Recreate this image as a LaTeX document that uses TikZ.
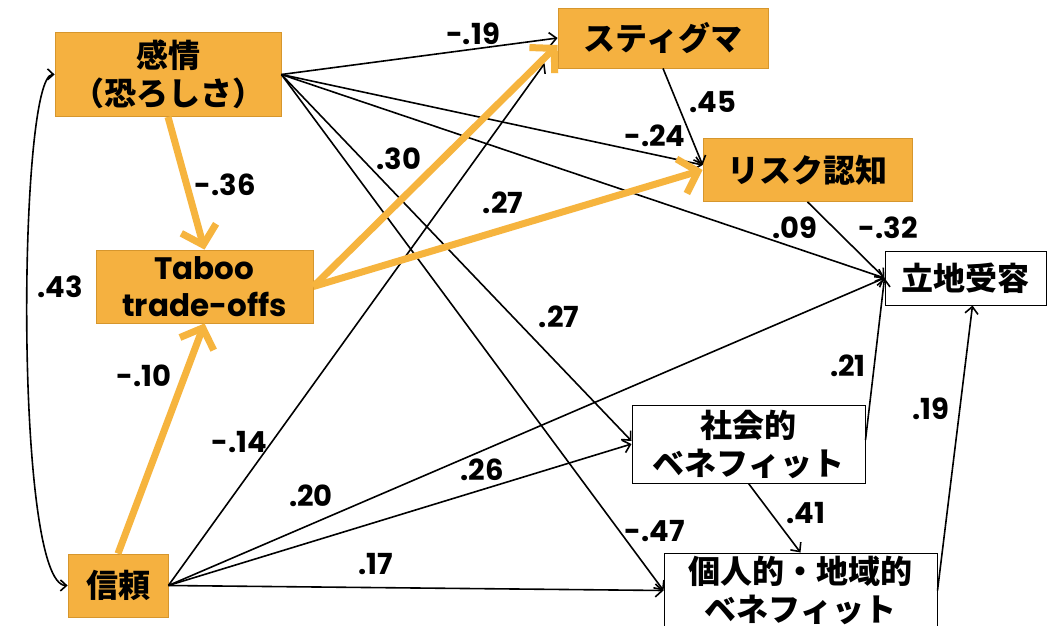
\documentclass[tikz,border=0pt]{standalone}
\usepackage{fontspec}
\setmainfont{Poppins}
\newfontfamily\jp{Noto Sans CJK JP}
\usetikzlibrary{arrows.meta}
\definecolor{ofill}{RGB}{245,177,64}
\definecolor{oline}{RGB}{214,150,45}
\definecolor{oarrow}{RGB}{246,180,62}
\begin{document}
\begin{tikzpicture}[x=1pt,y=-1pt,
  obox/.style={draw=oline, fill=ofill, line width=0.8pt, inner sep=0pt, align=center,
    font=\jp\bfseries\fontsize{32}{38}\selectfont},
  lbox/.style={draw=oline, fill=ofill, line width=0.8pt, inner sep=0pt, align=center,
    font=\bfseries\fontsize{31}{37}\selectfont},
  wbox/.style={draw=black, fill=white, line width=1pt, inner sep=0pt, align=center,
    font=\jp\bfseries\fontsize{32}{38}\selectfont},
  lab/.style={inner sep=0pt, font=\bfseries\fontsize{29}{32}\selectfont},
  arr/.style={draw=black, line width=1.6pt, -{Straight Barb[length=7pt,width=13pt]}},
  oarr/.style={draw=oarrow, line width=7pt, -{Straight Barb[length=17pt,width=36pt]}}]
\useasboundingbox (0,0) rectangle (1047,626);
\fill[white] (0,0) rectangle (1047,626);
% boxes
\node[obox, minimum width=226pt, minimum height=84pt] (emo) at (168,74.5) {感情\\（恐ろしさ）};
\node[lbox, minimum width=217pt, minimum height=73pt] (tab) at (204.5,286.5) {Taboo\\trade-offs};
\node[obox, minimum width=100pt, minimum height=63pt] (tru) at (118,585.5) {信頼};
\node[obox, minimum width=210pt, minimum height=60pt] (stig) at (663,38) {スティグマ};
\node[obox, minimum width=209pt, minimum height=63pt] (risk) at (807.5,170) {リスク認知};
\node[wbox, minimum width=161pt, minimum height=54pt] (lit) at (965.5,278) {立地受容};
\node[wbox, minimum width=233pt, minimum height=78pt] (soc) at (748.5,444) {社会的\\ベネフィット};
\node[wbox, minimum width=273pt, minimum height=75pt] (per) at (800.5,590.5) {個人的・地域的\\ベネフィット};
% thin connectors
\draw[arr] (emo.east) -- (stig.west);
\draw[arr] (emo.east) -- ([yshift=5pt]risk.west);
\draw[arr] (emo.east) -- (lit.west);
\draw[arr] (emo.east) -- ([yshift=3pt]soc.west);
\draw[arr] (emo.east) -- (per.west);
\draw[arr] (tru.east) -- ([xshift=-13pt,yshift=5pt]stig.south west);
\draw[arr] (tru.east) -- (lit.west);
\draw[arr] (tru.east) -- (soc.west);
\draw[arr] (tru.east) -- (per.west);
\draw[arr] (stig.south) -- ([yshift=5pt]risk.west);
\draw[arr] (risk.south) -- (lit.west);
\draw[arr] ([yshift=4pt]soc.east) -- (lit.west);
\draw[arr] (soc.south) -- (per.north);
\draw[arr] (per.east) -- ([xshift=7pt]lit.south);
\draw[line width=1.6pt, {Straight Barb[length=6pt,width=11pt]}-{Straight Barb[length=6pt,width=11pt]}]
  (emo.west) .. controls (18,74) and (14,585) .. (tru.west);
% orange connectors
\draw[oarr] (emo.south) -- (tab.north);
\draw[oarr] (tru.north) -- (tab.south);
\draw[oarr] (tab.east) -- ([yshift=-7pt]stig.west);
\draw[oarr] (tab.east) -- (risk.west);
% labels
\node[lab] (l36) at (225,185) {-.36};
\node[lab] (l19) at (473,34) {-.19};
\node[lab] (l45) at (713,102) {.45};
\node[lab] (l24) at (655,136) {-.24};
\node[lab] (l30) at (399,159) {.30};
\node[lab] (l27a) at (503,203) {.27};
\node[lab] (l27b) at (559,317) {.27};
\node[lab] (l09) at (795,228) {.09};
\node[lab] (l32) at (888,228) {-.32};
\node[lab] (l43) at (60,287) {.43};
\node[lab] (l10) at (144,376) {-.10};
\node[lab] (l14) at (239,442) {-.14};
\node[lab] (l20) at (311,496) {.20};
\node[lab] (l26) at (482,470) {.26};
\node[lab] (l17) at (376,564) {.17};
\node[lab] (l21) at (848,366) {.21};
\node[lab] (l19b) at (931,409) {.19};
\node[lab] (l41) at (806,513) {.41};
\node[lab] (l47) at (655,531) {-.47};
\end{tikzpicture}
\end{document}
